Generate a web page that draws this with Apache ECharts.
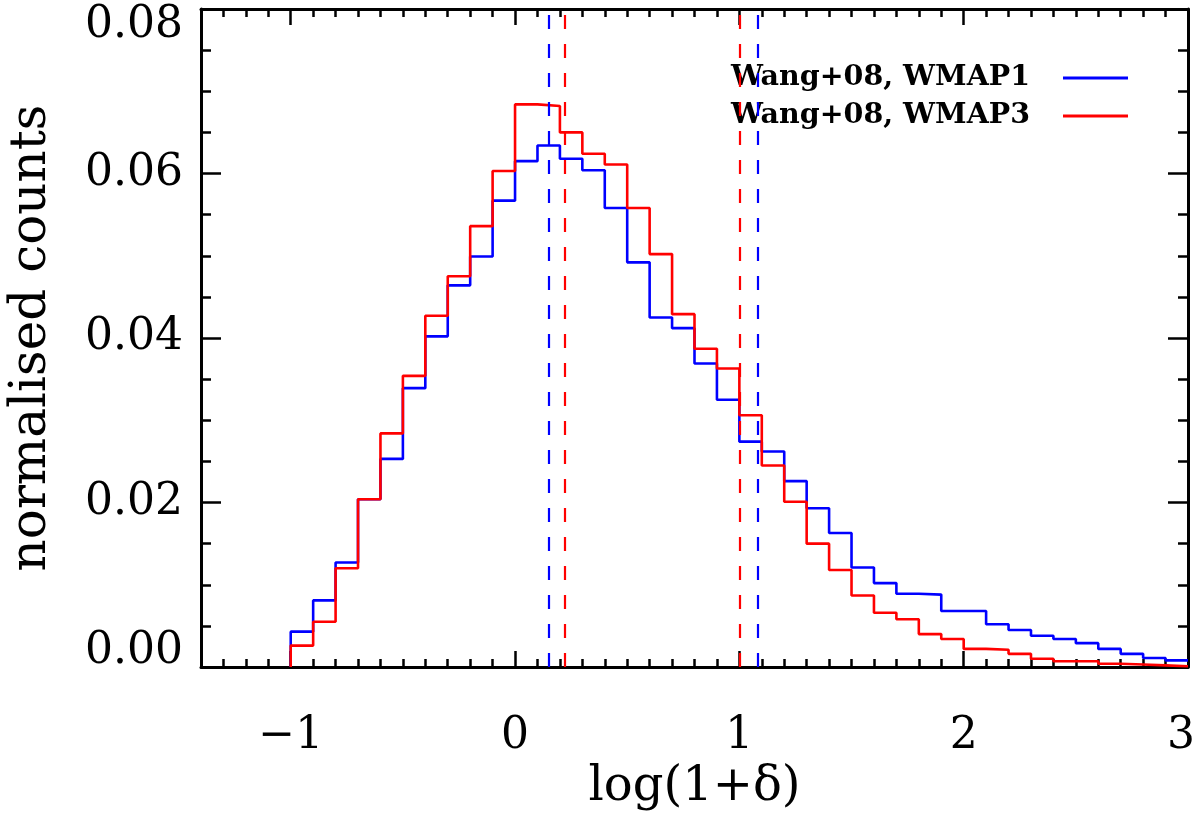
<!DOCTYPE html>
<html>
<head>
<meta charset="utf-8">
<script src="https://cdn.jsdelivr.net/npm/echarts@6/dist/echarts.min.js"></script>
<style>
html,body{margin:0;padding:0;background:#fff;}
#chart{width:1200px;height:813px;}
</style>
</head>
<body>
<div id="chart"></div>
<script>
// Bin edges of the histogram in log(1+delta)
var binEdges = [-1.0,-0.9,-0.8,-0.7,-0.6,-0.5,-0.4,-0.3,-0.2,-0.1,
  0.0,0.1,0.2,0.3,0.4,0.5,0.6,0.7,0.8,0.9,
  1.0,1.1,1.2,1.3,1.4,1.5,1.6,1.7,1.8,1.9,
  2.0,2.1,2.2,2.3,2.4,2.5,2.6,2.7,2.8,2.9,3.0];

// Normalised counts per bin
var wmap1Counts = [0.0043,0.0081,0.0127,0.0204,0.0253,0.0339,0.0402,0.0464,0.0499,0.0567,
  0.0615,0.0634,0.0618,0.0604,0.0558,0.0492,0.0425,0.0412,0.0369,0.0325,
  0.0274,0.0262,0.0226,0.0193,0.0163,0.0121,0.0102,0.0089,0.0088,0.0068,
  0.0068,0.0052,0.0045,0.0038,0.0034,0.0029,0.0022,0.0016,0.0011,0.0008];
var wmap3Counts = [0.0026,0.0055,0.0120,0.0204,0.0284,0.0354,0.0427,0.0475,0.0536,0.0603,
  0.0684,0.0682,0.0650,0.0624,0.0611,0.0558,0.0502,0.0429,0.0387,0.0363,
  0.0306,0.0245,0.0201,0.0150,0.0118,0.0087,0.0066,0.0058,0.0040,0.0034,
  0.0022,0.0021,0.0016,0.0010,0.0007,0.0007,0.0004,0.0003,0.0002,0.0001];

// Dashed vertical markers
var wmap1Markers = [0.154, 1.085];
var wmap3Markers = [0.222, 1.0];

// Series names
var seriesNames = ['Wang+08, WMAP1', 'Wang+08, WMAP3'];

// Axis ticks
var xMajorTicks = [-1, 0, 1, 2, 3];
var xMinorTicks = [-1.3,-1.2,-1.1,-0.9,-0.8,-0.7,-0.6,-0.5,-0.4,-0.3,-0.2,-0.1,
  0.1,0.2,0.3,0.4,0.5,0.6,0.7,0.8,0.9,1.1,1.2,1.3,1.4,1.5,1.6,1.7,1.8,1.9,
  2.1,2.2,2.3,2.4,2.5,2.6,2.7,2.8,2.9];
var xRange = [-1.4, 3];
var yRange = [0, 0.08];
var yInterval = 0.02;

function stepData(counts) {
  var pts = [[binEdges[0], 0]];
  for (var i = 0; i < counts.length; i++) pts.push([binEdges[i], counts[i]]);
  pts.push([binEdges[counts.length], counts[counts.length - 1]]);
  return pts;
}

var FONT = 'DejaVu Serif';
var chart = echarts.init(document.getElementById('chart'));
var labelFont = { fontFamily: FONT, fontSize: 44, color: '#000' };

function xAxisDef(pos, ticks, len, showLine, showLabel) {
  return {
    type: 'value', position: pos, min: xRange[0], max: xRange[1],
    axisLine: { show: showLine, onZero: false, lineStyle: { color: '#000', width: 3 } },
    axisTick: { show: true, inside: true, length: len, customValues: ticks, lineStyle: { color: '#000', width: 2.5 } },
    axisLabel: showLabel ? {
      show: true, customValues: ticks, margin: 48,
      fontFamily: FONT, fontSize: 44, color: '#000',
      formatter: function (v) {
        if (v === xRange[1]) return '{end|' + v + '}';
        return v < 0 ? '\u2212' + Math.abs(v) : String(v);
      },
      rich: { end: Object.assign({ padding: [0, 14, 0, 0] }, labelFont) }
    } : { show: false },
    splitLine: { show: false },
    name: showLabel ? 'log(1+\u03b4)' : '',
    nameLocation: 'middle', nameGap: 92,
    nameTextStyle: { fontFamily: FONT, fontSize: 48, color: '#000' }
  };
}
function yAxisDef(pos, showLabel) {
  return {
    type: 'value', position: pos, min: yRange[0], max: yRange[1], interval: yInterval,
    axisLine: { show: true, onZero: false, lineStyle: { color: '#000', width: 3 } },
    axisTick: { show: true, inside: true, length: 20, lineStyle: { color: '#000', width: 2.5 } },
    minorTick: { show: true, splitNumber: 4, length: 10, lineStyle: { color: '#000', width: 2.5 } },
    axisLabel: showLabel ? {
      show: true, margin: 18, fontFamily: FONT, fontSize: 44, color: '#000',
      formatter: function (v) {
        var s = v.toFixed(2);
        if (Math.abs(v - yRange[1]) < 1e-9) return '{dn|' + s + '}';
        if (Math.abs(v - yRange[0]) < 1e-9) return '{up|' + s + '}';
        return s;
      },
      rich: {
        dn: Object.assign({ padding: [34, 0, 0, 0] }, labelFont),
        up: Object.assign({ padding: [0, 0, 30, 0] }, labelFont)
      }
    } : { show: false },
    splitLine: { show: false }, minorSplitLine: { show: false },
    name: showLabel ? 'normalised counts' : '',
    nameLocation: 'middle', nameGap: 144,
    nameTextStyle: { fontFamily: FONT, fontSize: 50, color: '#000' }
  };
}

var option = {
  animation: false,
  backgroundColor: '#fff',
  grid: { left: 201, right: 12, top: 9, bottom: 146, containLabel: false, outerBoundsMode: 'none' },
  legend: {
    orient: 'vertical', right: 67, top: 58, align: 'right',
    itemWidth: 65, itemHeight: 3, itemGap: 8, icon: 'rect',
    textStyle: { fontFamily: FONT, fontWeight: 'bold', fontSize: 28.5, color: '#000', lineHeight: 30, padding: [0, 28, 0, 0] },
    data: seriesNames
  },
  xAxis: [
    xAxisDef('bottom', xMajorTicks, 16, true, true),
    xAxisDef('bottom', xMinorTicks, 8, false, false),
    xAxisDef('top', xMajorTicks, 16, true, false),
    xAxisDef('top', xMinorTicks, 8, false, false)
  ],
  yAxis: [ yAxisDef('left', true), yAxisDef('right', false) ],
  series: [
    {
      name: seriesNames[0], type: 'line', step: 'end', symbol: 'none',
      xAxisIndex: 0, yAxisIndex: 0,
      data: stepData(wmap1Counts),
      lineStyle: { color: '#0000ff', width: 2.6 }, itemStyle: { color: '#0000ff' },
      markLine: {
        silent: true, symbol: ['none', 'none'], label: { show: false },
        lineStyle: { color: '#0000ff', width: 2.2, type: [14, 15] },
        data: wmap1Markers.map(function (v) { return { xAxis: v }; })
      }
    },
    {
      name: seriesNames[1], type: 'line', step: 'end', symbol: 'none',
      xAxisIndex: 0, yAxisIndex: 0,
      data: stepData(wmap3Counts),
      lineStyle: { color: '#ff0000', width: 2.6 }, itemStyle: { color: '#ff0000' },
      markLine: {
        silent: true, symbol: ['none', 'none'], label: { show: false },
        lineStyle: { color: '#ff0000', width: 2.2, type: [14, 15] },
        data: wmap3Markers.map(function (v) { return { xAxis: v }; })
      }
    }
  ]
};
chart.setOption(option);
</script>
</body>
</html>
